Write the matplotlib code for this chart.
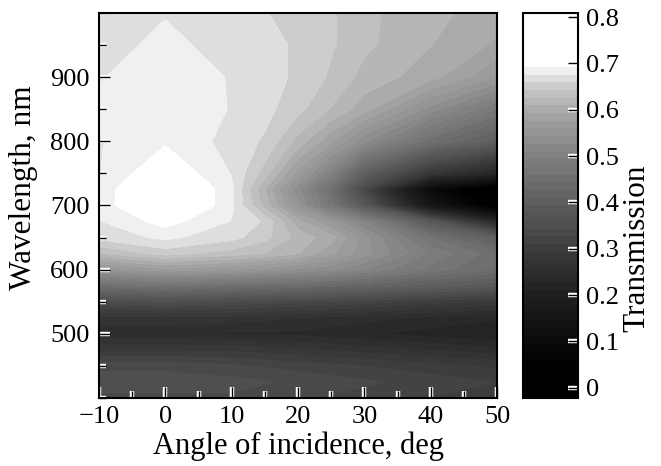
import matplotlib
matplotlib.use("Agg")
import matplotlib.pyplot as plt
import matplotlib.patheffects as pe
from matplotlib.colors import LinearSegmentedColormap
from matplotlib.ticker import MultipleLocator, FuncFormatter
import numpy as np

plt.rcParams['font.family'] = ['Liberation Serif', 'DejaVu Serif']

# grid
angles = [-10, 0, 10, 15, 20, 25, 30, 40, 50]
wavelengths = [400, 425, 450, 475, 500, 525, 550, 575, 600, 625, 650,
               675, 700, 725, 750, 800, 850, 900, 950, 1000]

# transmission along wavelength, one list per angle of incidence
t_m10 = [0.34, 0.35, 0.34, 0.29, 0.25, 0.27, 0.34, 0.45, 0.55, 0.625, 0.665,
         0.675, 0.68, 0.68, 0.675, 0.675, 0.68, 0.675, 0.67, 0.665]
t_0 = [0.34, 0.35, 0.34, 0.29, 0.25, 0.27, 0.35, 0.46, 0.57, 0.65, 0.68,
       0.70, 0.73, 0.73, 0.71, 0.69, 0.69, 0.685, 0.68, 0.675]
t_10 = [0.34, 0.35, 0.33, 0.29, 0.24, 0.27, 0.34, 0.45, 0.56, 0.635, 0.665,
        0.675, 0.68, 0.68, 0.675, 0.67, 0.675, 0.675, 0.67, 0.665]
t_15 = [0.335, 0.345, 0.325, 0.285, 0.24, 0.265, 0.335, 0.445, 0.55, 0.625,
        0.648, 0.657, 0.62, 0.61, 0.635, 0.657, 0.665, 0.665, 0.665, 0.66]
t_20 = [0.33, 0.34, 0.32, 0.28, 0.24, 0.26, 0.33, 0.44, 0.54, 0.61, 0.62,
        0.60, 0.55, 0.53, 0.57, 0.62, 0.648, 0.657, 0.657, 0.655]
t_25 = [0.325, 0.335, 0.315, 0.275, 0.235, 0.255, 0.325, 0.43, 0.53, 0.58,
        0.60, 0.56, 0.47, 0.45, 0.50, 0.58, 0.625, 0.64, 0.645, 0.645]
t_30 = [0.32, 0.33, 0.31, 0.27, 0.23, 0.25, 0.32, 0.42, 0.51, 0.55, 0.55,
        0.51, 0.38, 0.33, 0.40, 0.53, 0.60, 0.62, 0.63, 0.63]
t_40 = [0.31, 0.32, 0.30, 0.26, 0.22, 0.24, 0.30, 0.40, 0.47, 0.49, 0.46,
        0.38, 0.16, 0.10, 0.28, 0.45, 0.535, 0.60, 0.61, 0.615]
t_50 = [0.30, 0.31, 0.29, 0.25, 0.21, 0.23, 0.29, 0.38, 0.44, 0.45, 0.40,
        0.23, 0.02, 0.0, 0.22, 0.40, 0.475, 0.56, 0.59, 0.60]

cbar_ticks = [0, 0.1, 0.2, 0.3, 0.4, 0.5, 0.6, 0.7, 0.8]

T = np.column_stack([t_m10, t_0, t_10, t_15, t_20, t_25, t_30, t_40, t_50])

vmin, vmax = -0.022, 0.809
# gray ramp, dark end stretched, saturates to white near 0.7
anchors = [(-0.022, 0.0), (0.05, 0.0), (0.1, 0.04), (0.2, 0.12), (0.3, 0.24),
           (0.4, 0.37), (0.5, 0.5), (0.6, 0.66), (0.65, 0.79), (0.69, 0.96),
           (0.70, 1.0), (0.809, 1.0)]
cmap = LinearSegmentedColormap.from_list(
    'tr', [((v - vmin) / (vmax - vmin), (g, g, g)) for v, g in anchors])

fig = plt.figure(figsize=(6.61, 4.66), dpi=100)
ax = fig.add_axes([0.1498, 0.1459, 0.6021, 0.8263])
cax = fig.add_axes([0.7912, 0.1459, 0.0832, 0.8263])

levels = np.linspace(vmin, vmax, 51)
cf = ax.contourf(angles, wavelengths, T, levels=levels, cmap=cmap,
                 vmin=vmin, vmax=vmax)

ax.set_xlim(-10, 50)
ax.set_ylim(400, 1000)
ax.xaxis.set_major_locator(MultipleLocator(10))
ax.xaxis.set_minor_locator(MultipleLocator(5))
ax.yaxis.set_minor_locator(MultipleLocator(50))
ax.set_yticks([500, 600, 700, 800, 900])
ax.tick_params(which='both', direction='in', top=False, right=False,
               labelsize=19, width=1.0)
ax.tick_params(axis='x', pad=6)
ax.tick_params(axis='y', pad=7)
ax.tick_params(which='major', length=8)
ax.tick_params(which='minor', length=5)
ax.set_xlabel('Angle of incidence, deg', fontsize=22)
ax.xaxis.set_label_coords(0.5, -0.087)
ax.set_ylabel('Wavelength, nm', fontsize=22.5)
ax.yaxis.set_label_coords(-0.153, 0.545)
for s in ax.spines.values():
    s.set_linewidth(1.5)

cb = fig.colorbar(cf, cax=cax, ticks=cbar_ticks)
cax.set_ylim(vmin, vmax)
cb.outline.set_linewidth(1.5)
cax.minorticks_off()
cax.tick_params(direction='in', length=7, width=1.0, labelsize=19, pad=6)
cax.yaxis.set_major_formatter(
    FuncFormatter(lambda v, p: '0' if abs(v) < 1e-9 else f'{v:.1f}'))
cb.set_label('Transmission', fontsize=22.5)
cax.yaxis.set_label_coords(1.8, 0.39)

stroke = [pe.withStroke(linewidth=3.2, foreground='white')]
for a in (ax, cax):
    lines = (a.get_xticklines() + a.get_yticklines()
             + a.xaxis.get_ticklines(minor=True)
             + a.yaxis.get_ticklines(minor=True))
    for ln in lines:
        ln.set_color('black')
        ln.set_path_effects(stroke)

fig.savefig('out.png', dpi=100)
